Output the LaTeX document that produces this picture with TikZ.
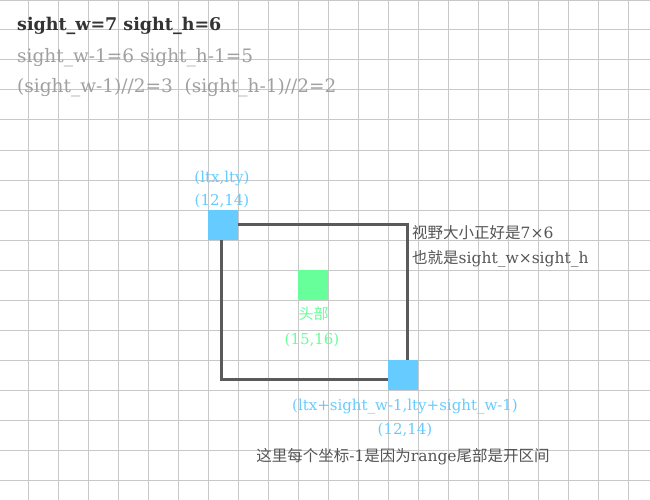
\documentclass[tikz,border=0pt]{standalone}
\usepackage{fontspec}
\setmainfont{DejaVu Serif}
\newfontfamily\cjk{Noto Sans CJK SC}
\definecolor{gridc}{HTML}{C8C8C8}
\definecolor{skyb}{HTML}{66CCFF}
\definecolor{mint}{HTML}{66FF99}
\definecolor{darkt}{HTML}{333333}
\definecolor{greyt}{HTML}{A0A0A0}
\definecolor{notet}{HTML}{555555}
\definecolor{framec}{HTML}{5A5A5A}
\tikzset{
  gridline/.style={draw=gridc, line width=1pt},
  cell/.style={minimum size=30pt, inner sep=0pt, draw=none},
  framebox/.style={draw=framec, line width=3pt},
  lbl/.style={inner sep=0pt, font=\fontsize{15}{18}\selectfont},
  bluel/.style={lbl, text=skyb, anchor=base},
  greenl/.style={lbl, text=mint, anchor=base},
  notel/.style={inner sep=0pt, text=notet, font=\fontsize{15.5}{18}\selectfont},
  headl/.style={inner sep=0pt, anchor=base west, font=\fontsize{18.5}{22}\selectfont},
}
\begin{document}
\begin{tikzpicture}[x=1pt,y=-1pt]
\useasboundingbox (0,0) rectangle (650,500);
\fill[white] (0,0) rectangle (650,500);
% grid
\foreach \gx in {28.3,58.3,...,640} \draw[gridline] (\gx,0) -- (\gx,500);
\foreach \gy in {0.5,30,60,...,490} \draw[gridline] (0,\gy) -- (650,\gy);
% header text
\node[headl, text=darkt, font=\fontsize{17.5}{21}\selectfont\bfseries] (t1) at (17,31) {sight\_w=7 sight\_h=6};
\node[headl, text=greyt] (t2) at (17,63) {sight\_w-1=6 sight\_h-1=5};
\node[headl, text=greyt] (t3) at (17,93) {(sight\_w-1)//2=3\ \ (sight\_h-1)//2=2};
% frame
\coordinate (ftl) at (221,224);
\coordinate (fbr) at (407,379);
\draw[framebox] (ftl) rectangle (fbr);
% cells
\node[cell, fill=skyb] (lt) at (223,225) {};
\node[cell, fill=skyb] (rb) at (403,375) {};
\node[cell, fill=mint] (head) at (313,285) {};
% labels
\node[bluel] (ltname) at (222,182) {(ltx,lty)};
\node[bluel] (ltval) at (222,205) {(12,14)};
\node[greenl] (headname) at (313.5,319) {\cjk 头部};
\node[greenl] (headval) at (312,344) {(15,16)};
\node[notel, anchor=base west] (size1) at (412,238) {{\cjk 视野大小正好是}7×6};
\node[notel, anchor=base west] (size2) at (412,263) {{\cjk 也就是}sight\_w×sight\_h};
\node[bluel] (rbname) at (405,410) {(ltx+sight\_w-1,lty+sight\_w-1)};
\node[bluel] (rbval) at (405,434) {(12,14)};
\node[notel, anchor=base] (note) at (403,461) {{\cjk 这里每个坐标}-1{\cjk 是因为}range{\cjk 尾部是开区间}};
\end{tikzpicture}
\end{document}
